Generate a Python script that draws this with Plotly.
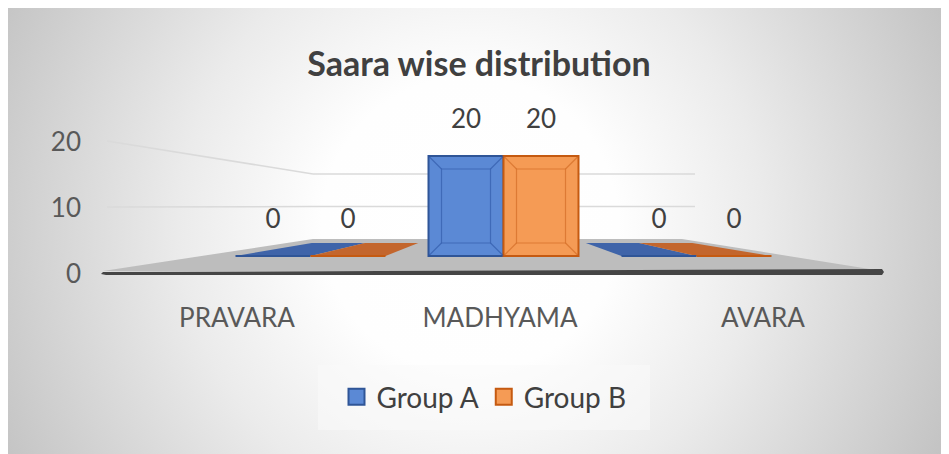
import plotly.graph_objects as go
import urllib.parse

# ---------------- data ----------------
categories = ["PRAVARA", "MADHYAMA", "AVARA"]
series_names = ["Group A", "Group B"]
group_a = [0, 20, 0]
group_b = [0, 20, 0]
y_ticks = [0, 10, 20]
title_text = "Saara wise distribution"

# ---------------- styles / geometry ----------------
W, H = 949, 454
OX, OY = 8, 8        # page body margin: screen px = figure px + offset
FONT = "Lato, 'Noto Sans', sans-serif"
TXT = "#404040"
TICK_TXT = "#595959"
fills = ["#5b89d5", "#f59b55"]
edges = ["#2f5597", "#c55a11"]
bevel = ["rgba(40,80,160,0.55)", "rgba(200,95,25,0.55)"]
slab_fills = ["#3f64a9", "#c3662d"]

# all geometry below is in screen px of the reference picture
Y_BOT = 300          # bottom of plotting domain
BAR_BASE_PX = 256    # value 0 on the bar scale
BAR_PXU = 5.0        # px per unit on the bar scale
CAT_PX = 193.0       # px per category on the bar x scale
CAT1_PX = 503.5      # middle category on bar scale
LAB_PX = 263.0       # px per category for the category labels (front edge)
LAB1_PX = 500.0
TICK0_PX = 274.0     # tick 0 on left wall
TICK_PXU = 6.6
BACK0_PX = 239.0     # 0 on back wall
BACK_PXU = 3.25
BAR_W = 75.0 / CAT_PX
offsets = [-BAR_W, 0.0]
SLAB_DEPTH = 2.6     # units (13 px)
PERSP_K = 0.71
VANISH = 1 - 5.0 / CAT_PX


def pxx(x):
    return (x - OX) / W


def pxy(y):
    return 1 - (y - OY) / H


fig = go.Figure()
series = [group_a, group_b]
shapes = []

# ---------------- perspective floor and gridlines ----------------
floor = [(103, 271), (882, 271), (682, 239), (313, 239)]
path = "M " + " L ".join(f"{pxx(x)},{pxy(y)}" for x, y in floor) + " Z"
shapes.append(dict(type="path", path=path, xref="paper", yref="paper",
                   fillcolor="#bdbdbd", line=dict(width=0), layer="below"))
edge = [(103, 272), (882, 269), (884, 272), (882, 275), (106, 275), (101, 274)]
path = "M " + " L ".join(f"{pxx(x)},{pxy(y)}" for x, y in edge) + " Z"
shapes.append(dict(type="path", path=path, xref="paper", yref="paper",
                   fillcolor="#454545", line=dict(width=0), layer="below"))
for v in y_ticks[1:]:
    fy = TICK0_PX - 1 - TICK_PXU * v
    by = BACK0_PX - BACK_PXU * v
    shapes.append(dict(type="line", xref="paper", yref="paper",
                       x0=pxx(107), y0=pxy(fy), x1=pxx(313), y1=pxy(by),
                       line=dict(color="#dadada", width=1.5), layer="below"))
    shapes.append(dict(type="line", xref="paper", yref="paper",
                       x0=pxx(313), y0=pxy(by), x1=pxx(695), y1=pxy(by),
                       line=dict(color="#dadada", width=1.5), layer="below"))

# footprints (floor-level faces) of every bar, below the bars
for s, vals in enumerate(series):
    for i, v in enumerate(vals):
        xl = i + offsets[s]
        xr = xl + BAR_W
        bl = VANISH + (xl - VANISH) * PERSP_K
        br = VANISH + (xr - VANISH) * PERSP_K
        pts = [(xl, 0), (xr, 0), (br, SLAB_DEPTH), (bl, SLAB_DEPTH)]
        path = "M " + " L ".join(f"{a},{b}" for a, b in pts) + " Z"
        shapes.append(dict(type="path", path=path, xref="x", yref="y",
                           fillcolor=slab_fills[s], line=dict(width=0), layer="below"))

# bars
for s, vals in enumerate(series):
    fig.add_trace(go.Bar(
        x=list(range(len(categories))), y=vals, name=series_names[s],
        width=BAR_W, offset=offsets[s],
        marker=dict(color=fills[s], line=dict(color=edges[s], width=2)),
        showlegend=False, hoverinfo="skip"))

# data labels
for s, vals in enumerate(series):
    fig.add_trace(go.Scatter(
        x=[i + offsets[s] + BAR_W / 2 for i in range(len(vals))],
        y=[v + 7.0 for v in vals], text=[str(v) for v in vals],
        mode="text", textposition="middle center",
        textfont=dict(family=FONT, size=26, color=TXT),
        hoverinfo="skip", showlegend=False))

# legend entries
for s in range(2):
    fig.add_trace(go.Scatter(
        x=[None], y=[None], mode="markers", name=series_names[s],
        marker=dict(symbol="square", size=16, color=fills[s],
                    line=dict(color=edges[s], width=2))))

# carriers for the category-label axis and the value-tick axis
fig.add_trace(go.Scatter(x=[None], y=[None], xaxis="x2", yaxis="y",
                         showlegend=False, hoverinfo="skip"))
fig.add_trace(go.Scatter(x=[None], y=[None], xaxis="x", yaxis="y2",
                         showlegend=False, hoverinfo="skip"))

# bevel on the front face of non-zero bars
dx, dy = 13 / CAT_PX, 13 / BAR_PXU
for s, vals in enumerate(series):
    for i, v in enumerate(vals):
        if v <= 0:
            continue
        xl = i + offsets[s]
        xr = xl + BAR_W
        ln = dict(color=bevel[s], width=1.2)
        shapes.append(dict(type="rect", xref="x", yref="y", x0=xl + dx, x1=xr - dx,
                           y0=dy, y1=v - dy, line=ln))
        for (ax, ay, bx, by_) in [(xl, 0, xl + dx, dy), (xr, 0, xr - dx, dy),
                                  (xl, v, xl + dx, v - dy), (xr, v, xr - dx, v - dy)]:
            shapes.append(dict(type="line", xref="x", yref="y", x0=ax, y0=ay,
                               x1=bx, y1=by_, line=ln))

# legend background
shapes.append(dict(type="rect", xref="paper", yref="paper",
                   x0=pxx(318), x1=pxx(650), y0=pxy(430), y1=pxy(365),
                   fillcolor="rgba(250,250,250,0.55)", line=dict(width=0), layer="below"))

svg = (
    "<svg xmlns='http://www.w3.org/2000/svg' width='949' height='454'>"
    "<defs><radialGradient id='g' gradientUnits='userSpaceOnUse' cx='462' cy='217' r='530'>"
    "<stop offset='0' stop-color='#ffffff'/>"
    "<stop offset='0.28' stop-color='#fefefe'/>"
    "<stop offset='0.55' stop-color='#ebebeb'/>"
    "<stop offset='1' stop-color='#c2c2c2'/>"
    "</radialGradient></defs>"
    "<rect width='949' height='454' fill='url(#g)'/></svg>"
)
bg_src = "data:image/svg+xml;charset=utf-8," + urllib.parse.quote(svg)

# axis ranges (figure px = screen px - offset)
yb, b0, t0, c1, l1 = Y_BOT - OY, BAR_BASE_PX - OY, TICK0_PX - OY, CAT1_PX - OX, LAB1_PX - OX
main_y_range = [-(yb - b0) / BAR_PXU, b0 / BAR_PXU]
main_x_range = [1 - c1 / CAT_PX, 1 + (W - c1) / CAT_PX]
lab_x_range = [1 - l1 / LAB_PX, 1 + (W - l1) / LAB_PX]
tick_y_range = [-(yb - t0) / TICK_PXU, t0 / TICK_PXU]
y_dom = [1 - yb / H, 1]

fig.update_layout(
    width=W, height=H,
    margin=dict(l=0, r=0, t=0, b=0),
    paper_bgcolor="white", plot_bgcolor="rgba(0,0,0,0)",
    images=[dict(source=bg_src, xref="paper", yref="paper",
                 x=0, y=1, sizex=1, sizey=1,
                 xanchor="left", yanchor="top", sizing="stretch", layer="below")],
    shapes=shapes,
    title=dict(text=title_text, x=pxx(479), y=pxy(64), xanchor="center",
               yanchor="middle", xref="paper", yref="paper",
               font=dict(family=FONT, size=34, color=TXT, weight="bold")),
    barmode="overlay",
    xaxis=dict(range=main_x_range, domain=[0, 1], showgrid=False, zeroline=False,
               showline=False, showticklabels=False, ticks="", fixedrange=True),
    xaxis2=dict(range=lab_x_range, overlaying="x", anchor="y", side="bottom",
                tickmode="array", tickvals=list(range(len(categories))),
                ticktext=categories, showgrid=False, zeroline=False, showline=False,
                ticks="", tickfont=dict(family=FONT, size=26, color=TICK_TXT)),
    yaxis=dict(range=main_y_range, domain=y_dom, showgrid=False, zeroline=False,
               showline=False, showticklabels=False, ticks=""),
    yaxis2=dict(range=tick_y_range, overlaying="y", anchor="free", position=pxx(81),
                side="left", tickmode="array", tickvals=y_ticks,
                showgrid=False, zeroline=False, showline=False, ticks="",
                tickfont=dict(family=FONT, size=26, color=TICK_TXT)),
    legend=dict(orientation="h", x=pxx(484), y=pxy(397), xanchor="center",
                yanchor="middle", bgcolor="rgba(0,0,0,0)",
                font=dict(family=FONT, size=28, color=TXT), itemsizing="trace"),
    showlegend=True,
)

fig.write_html("out.html")
